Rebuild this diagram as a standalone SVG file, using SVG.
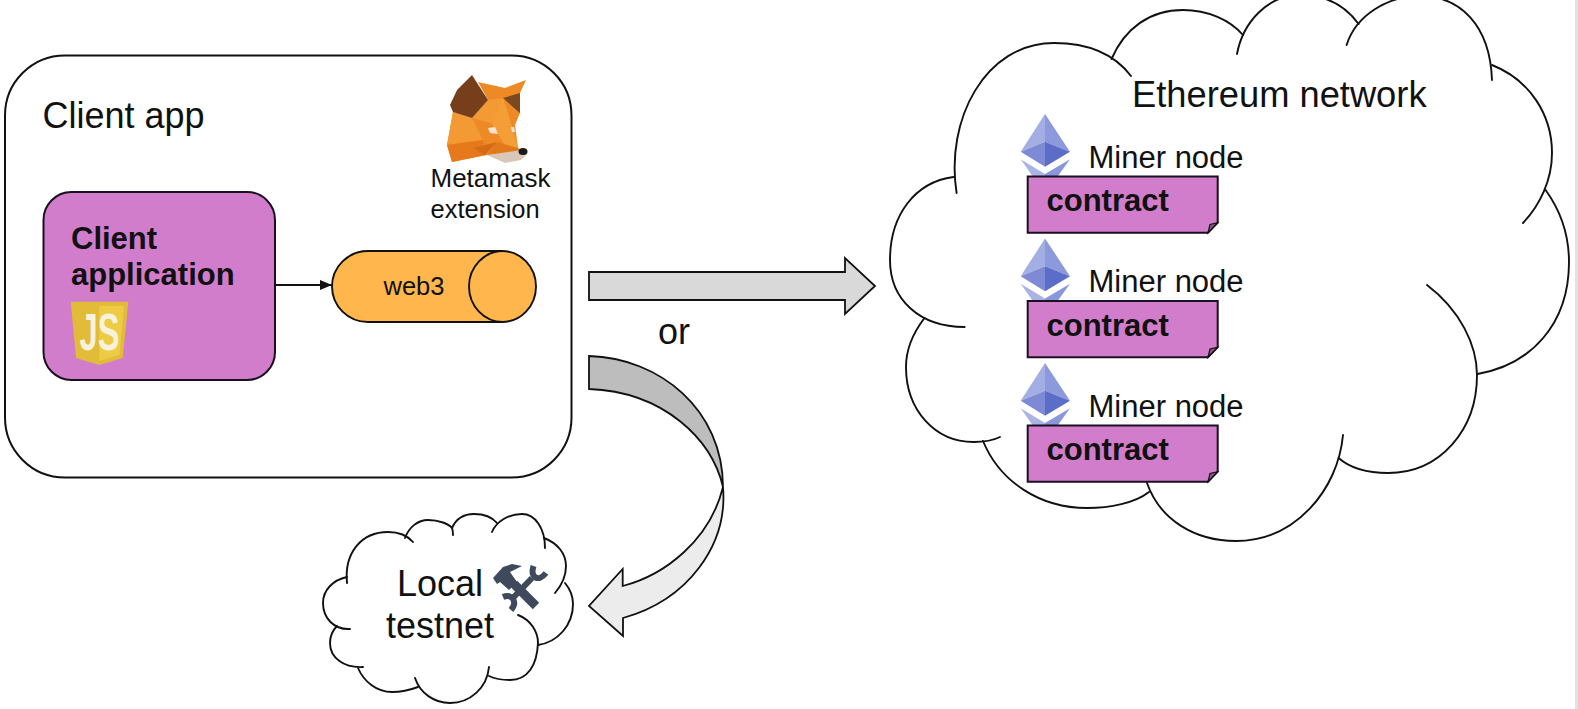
<svg xmlns="http://www.w3.org/2000/svg" width="1578" height="709" viewBox="0 0 1578 709">
<defs>
<marker id="ah" markerWidth="12" markerHeight="10" refX="12" refY="5" orient="auto" markerUnits="userSpaceOnUse"><path d="M0,0 L12,5 L0,10 Z" fill="#111"/></marker>
<g id="eth">
<polygon points="1045,194 1020.7,159.3 1045,174" fill="#a9b4e4"/>
<polygon points="1045,194 1070,159.3 1045,174" fill="#8a97da"/>
<polygon points="1045,114 1020.7,151.7 1045,141.7" fill="#a3aee2"/>
<polygon points="1045,114 1070,151.7 1045,141.7" fill="#8c99dc"/>
<polygon points="1020.7,151.7 1045,141.7 1045,166.7" fill="#7e8bd4"/>
<polygon points="1070,151.7 1045,141.7 1045,166.7" fill="#5c6dc8"/>
</g>
<g id="note">
<path class="purple" d="M1027.7,176.5 H1217.7 V222.7 L1208,232.7 H1027.7 Z"/>
<path d="M1208,232.7 L1210,224.5 L1217.7,222.7 Z" fill="#8a5585" stroke="#111" stroke-width="1.2"/>
<text class="sb" x="1046.5" y="211" font-size="31">contract</text>
<text class="s" x="1088.5" y="167.7" font-size="31">Miner node</text>
</g>
</defs>
<style>
.s{font-family:"Liberation Sans",Arial,sans-serif;fill:#111}
.sb{font-family:"Liberation Sans",Arial,sans-serif;font-weight:700;fill:#111}
.line{fill:none;stroke:#111;stroke-width:1.9;stroke-linecap:round}
.purple{fill:#d17dcb;stroke:#1a1020;stroke-width:2}
.arrow{stroke:#111;stroke-width:1.8;stroke-linejoin:miter}
.tool{fill:none;stroke:#3e4a5c}
</style>
<rect width="1578" height="709" fill="#fff"/>
<rect x="1575" y="0" width="3" height="709" fill="#e2e2e2"/>

<g id="client-app">
<rect x="5" y="55.5" width="566.5" height="422" rx="60" ry="60" fill="#fff" stroke="#111" stroke-width="2"/>
<text class="s" x="42.5" y="128" font-size="36">Client app</text>
</g>

<g id="metamask">
<polygon points="453,112 472,118 488,100 478,82 505,88 526,80 520,93 520,113 515,125 518,148 524,152 487,155 452,162 447,145" fill="#ee8a26"/>
<polygon points="488,100 503,98 512,127 498,125 472,118" fill="#f49a35"/>
<polygon points="503,98 512,127 518,148 508,150 492,124" fill="#f59e38"/>
<polygon points="453,112 472,118 483,140 447,145" fill="#f39a34"/>
<polygon points="447,145 483,140 485,155 452,162" fill="#e5791b"/>
<polygon points="473,148 497,142 485,155" fill="#d56b14"/>
<polygon points="497,142 518,148 522,152 487,155" fill="#e07a1c"/>
<polygon points="487,155 522,150 527,154 521,160 505,163" fill="#d9c7ba"/>
<polygon points="472,75 488,100 472,118 453,112 450,105 457,90" fill="#763e1a"/>
<polygon points="503,98 520,93 520,113 514,108" fill="#7a4a1e"/>
<polygon points="488,128 495,127 498,134 490,133" fill="#f6e3d2"/>
<polygon points="511,127 514,127 515,132 512,132" fill="#f6e3d2"/>
<ellipse cx="523" cy="151.5" rx="4.5" ry="3.6" fill="#1b1b1b"/>
<text class="s" x="430.5" y="187" font-size="26">Metamask</text>
<text class="s" x="430.5" y="218" font-size="25.5">extension</text>
</g>

<g id="client-application">
<rect class="purple" x="43.5" y="192" width="231.5" height="188" rx="28" ry="28"/>
<text class="sb" x="71" y="249" font-size="31">Client</text>
<text class="sb" x="71" y="285" font-size="31">application</text>
<polygon points="70.7,301.7 128.3,301.7 122.7,358 99.3,365 76,358" fill="#e2bb38"/>
<polygon points="99.3,306 124,306 119.5,355 99.3,361" fill="#eecb45"/>
<text x="99.5" y="350" font-family="'Liberation Sans',Arial,sans-serif" font-weight="700" font-size="52" fill="#f8f2dc" text-anchor="middle" textLength="40" lengthAdjust="spacingAndGlyphs">JS</text>
</g>

<g id="web3">
<path d="M368,251 H502 A34,35.5 0 0 1 502,322 H368 A36,35.5 0 0 1 368,251 Z" fill="#ffb74d" stroke="#111" stroke-width="1.9"/>
<path d="M503,251 A34,35.5 0 0 0 503,322" fill="none" stroke="#111" stroke-width="1.9"/>
<text class="s" x="414" y="295" font-size="25.5" text-anchor="middle">web3</text>
</g>

<g id="connectors">
<line x1="275" y1="285" x2="332" y2="285" stroke="#111" stroke-width="1.8" marker-end="url(#ah)"/>
<polygon class="arrow" points="589,272 845,272 845,258 875,286 845,314 845,300 589,300" fill="#d9d9d9"/>
<path class="arrow" d="M589,356 C660,358 723,410 723,487 C712,440 665,392 589,389 Z" fill="#bdbdbd"/>
<path class="arrow" d="M723,487 C728,545 688,600 623,618 L623,636 L589,606 L622.7,569 L622.7,586 C665,575 710,540 723,487 Z" fill="#ececec"/>
<text class="s" x="658" y="344" font-size="36">or</text>
</g>

<g id="ethereum-network">
<path class="line" d="M956.6,193 C945,120 985,43 1054,43 C1090,43 1115,55 1131,76"/>
<path class="line" d="M1111.5,59 C1125,28 1150,10 1183,10 C1208,10 1230,20 1243,35"/>
<path class="line" d="M1237,54 C1243,22 1268,-5 1300,-5 C1325,-5 1345,5 1358.6,24"/>
<path class="line" d="M1346.6,45 C1356,15 1388,-4 1420,-4 C1460,-4 1490,25 1492,80"/>
<path class="line" d="M1492,65 C1530,80 1552,115 1552,153 C1552,180 1540,205 1523,223"/>
<path class="line" d="M1545.6,190 C1560,210 1569,235 1569,262 C1569,325 1530,365 1477.5,374"/>
<path class="line" d="M1427,285 C1460,310 1477,345 1477,375 C1477,430 1440,473 1388,473 C1368,473 1350,468 1338.6,458"/>
<path class="line" d="M1343,435 C1338,490 1295,541 1236,541 C1195,541 1160,520 1147,483"/>
<path class="line" d="M1149,492 C1135,503 1110,508 1087,508 C1040,508 1000,482 983,441"/>
<path class="line" d="M1000,437 C992,441 982,442 973.5,442 C935,442 906,410 906,367 C906,350 913,333 924.5,318"/>
<path class="line" d="M964.6,327 C920,327 890,300 890,260 C890,215 915,182 953.5,177"/>
<text class="s" x="1132" y="107" font-size="36.3">Ethereum network</text>
</g>

<g id="miner-1"><use href="#eth"/><use href="#note"/></g>
<g id="miner-2" transform="translate(0,124.5)"><use href="#eth"/><use href="#note"/></g>
<g id="miner-3" transform="translate(0,249)"><use href="#eth"/><use href="#note"/></g>

<g id="local-testnet">
<path class="line" d="M347,583 C344,552 362,532 388,532 C398,532 407,535 413,542"/>
<path class="line" d="M405,538 C409,527 418,520 428,520 C439,520 449,524 452,528 C453,530 453,533 453,535"/>
<path class="line" d="M452,528 C456,519 464,514 474,514 C484,514 492,517 497,523"/>
<path class="line" d="M492,532 C496,522 508,514 522,514 C535,514 545,528 545,548"/>
<path class="line" d="M544,538 C557,543 566,553 566,566 C566,577 561,586 555,593"/>
<path class="line" d="M565,583 C570,589 573,596 573,604 C573,625 558,642 538,645"/>
<path class="line" d="M518,615 C531,620 538,632 538,643 C537,665 528,680 510,680 C502,680 495,679 489,676"/>
<path class="line" d="M489,667 C487,688 470,703 450,703 C434,703 420,693 415,678"/>
<path class="line" d="M418,687 C410,690 401,692 392,692 C377,692 364,682 358,668"/>
<path class="line" d="M363,667 C344,668 330,658 330,643 C330,636 333,630 337,626"/>
<path class="line" d="M350,629 C334,630 323,618 323,603 C323,590 333,580 347,577"/>
<text class="s" x="397" y="596" font-size="36">Local</text>
<text class="s" x="386" y="637.5" font-size="36">testnet</text>
<g>
<polygon points="493,578 503,567 512,564 522,566 510,572 517,582 509,590 500,582 497,584" fill="#3e4a5c"/>
<line class="tool" x1="514" y1="584" x2="536" y2="606" stroke-width="9"/>
<line class="tool" x1="511" y1="600" x2="532" y2="578" stroke-width="6"/>
<path class="tool" d="M533.5,566 C530,577 538,583 546,573" stroke-width="6"/>
<path class="tool" d="M503,597 C512,593 518,602 511,610" stroke-width="6"/>
</g>
</g>
</svg>
